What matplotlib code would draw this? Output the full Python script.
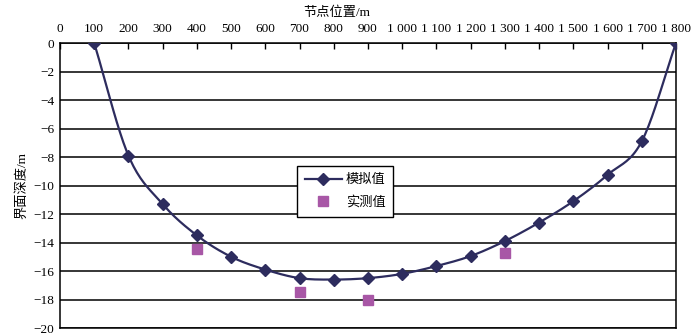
import numpy as np
import matplotlib.pyplot as plt
from matplotlib.ticker import FuncFormatter, MultipleLocator

plt.rcParams['font.family'] = ['Liberation Serif', 'Noto Sans CJK SC']
plt.rcParams['axes.unicode_minus'] = True

# node positions and interface depth
pos = [100, 200, 300, 400, 500, 600, 700, 800, 900, 1000,
       1100, 1200, 1300, 1400, 1500, 1600, 1700, 1800]
sim = [0, -7.9, -11.3, -13.5, -15.0, -15.9, -16.5, -16.6, -16.5, -16.2,
       -15.65, -14.95, -13.9, -12.6, -11.1, -9.25, -6.9, 0]
meas_pos = [400, 700, 900, 1300]
meas = [-14.45, -17.45, -18.05, -14.75]

line_col = '#2d2c5e'
sq_col = '#a857a6'


def smooth(x, y, n=20):
    # Catmull-Rom style smoothing through the points
    x = np.asarray(x, float)
    y = np.asarray(y, float)
    px = np.concatenate([[2 * x[0] - x[1]], x, [2 * x[-1] - x[-2]]])
    py = np.concatenate([[2 * y[0] - y[1]], y, [2 * y[-1] - y[-2]]])
    xs, ys = [], []
    t = np.linspace(0, 1, n, endpoint=False)
    for i in range(1, len(px) - 2):
        for arr, out in ((px, xs), (py, ys)):
            p0, p1, p2, p3 = arr[i - 1], arr[i], arr[i + 1], arr[i + 2]
            out.extend(0.5 * (2 * p1 + (-p0 + p2) * t
                              + (2 * p0 - 5 * p1 + 4 * p2 - p3) * t ** 2
                              + (-p0 + 3 * p1 - 3 * p2 + p3) * t ** 3))
    xs.append(x[-1])
    ys.append(y[-1])
    return np.array(xs), np.array(ys)


fig = plt.figure(figsize=(6.96, 3.36), dpi=100)
ax = fig.add_axes([0.0862, 0.0238, 0.885, 0.848])

for yv in range(-20, 1, 2):
    ax.axhline(yv, color='black', lw=1.1, zorder=1)

sx, sy = smooth(pos, sim)
ax.plot(sx, sy, color=line_col, lw=1.6, zorder=2)
ax.plot(pos, sim, ls='none', marker='D', ms=6.5, color=line_col, zorder=3)
ax.plot(meas_pos, meas, ls='none', marker='s', ms=7.5, color=sq_col, zorder=3)

# legend proxies
h1, = ax.plot([], [], color=line_col, lw=1.6, marker='D', ms=6.5)
h2, = ax.plot([], [], ls='none', marker='s', ms=7.5, color=sq_col)
leg = ax.legend([h1, h2], ['模拟值', '实测值'], loc='center',
                bbox_to_anchor=(0.463, 0.479), fontsize=9.5, frameon=True,
                fancybox=False, edgecolor='black', framealpha=1,
                handlelength=2.8, handletextpad=0.3, borderpad=0.6,
                labelspacing=0.75)
leg.get_frame().set_linewidth(1.0)

ax.set_xlim(0, 1800)
ax.set_ylim(-20, 0)
ax.xaxis.set_major_locator(MultipleLocator(100))
ax.yaxis.set_major_locator(MultipleLocator(2))


def fmt_x(v, _):
    v = int(round(v))
    if v >= 1000:
        return '%d %03d' % (v // 1000, v % 1000)
    return str(v)


ax.xaxis.set_major_formatter(FuncFormatter(fmt_x))
ax.xaxis.tick_top()
ax.xaxis.set_label_position('top')
ax.tick_params(axis='x', direction='in', length=4, width=1, labelsize=9.5, pad=6)
ax.tick_params(axis='y', length=0, labelsize=9.5, pad=4)

for s in ['left', 'right', 'top', 'bottom']:
    ax.spines[s].set_linewidth(1.1)

ax.set_xlabel('节点位置/m', fontsize=9.5, labelpad=5, x=0.45)
ax.set_ylabel('界面深度/m', fontsize=9.5, labelpad=4)

fig.savefig('out.png', dpi=100)
